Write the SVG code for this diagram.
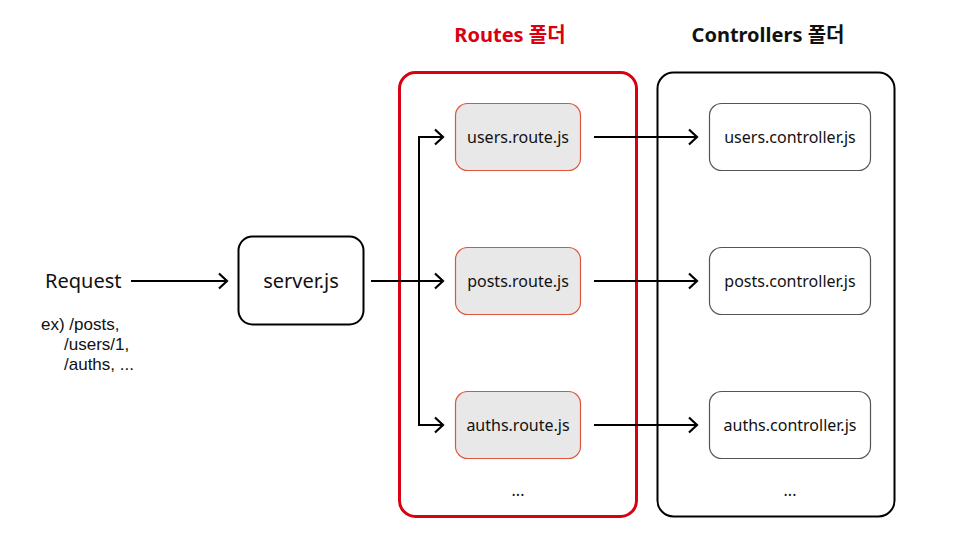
<svg xmlns="http://www.w3.org/2000/svg" width="961" height="547" viewBox="0 0 961 547">
<defs>
<marker id="arr" markerUnits="userSpaceOnUse" markerWidth="20" markerHeight="20" refX="12" refY="10" orient="auto">
<path d="M4,2.5 L12,10 L4,17.5" fill="none" stroke="#000" stroke-width="2.2"/>
</marker>
<style>
text{font-family:"Noto Sans","Noto Sans CJK KR",sans-serif;fill:#111}
.t{font-size:20px}
.n{font-size:16px}
.s{font-size:17px;font-family:"Liberation Sans","Noto Sans",sans-serif}
.h{font-size:20px;font-weight:bold}
.route{fill:#E8E8E8;stroke:#E0543F;stroke-width:1.2}
.ctrl{fill:#fff;stroke:#555;stroke-width:1.2}
.c{stroke:#000;stroke-width:2;fill:none}
</style>
</defs>
<rect width="961" height="547" fill="#fff"/>
<g id="routes-folder">
<rect x="399.5" y="72.5" width="237" height="444" rx="16" fill="none" stroke="#D9000F" stroke-width="3"/>
<text class="h" x="510" y="42" text-anchor="middle" style="fill:#D9000F">Routes 폴더</text>
<text class="n" x="518" y="496" text-anchor="middle">...</text>
</g>
<g id="controllers-folder">
<rect x="657.5" y="72.5" width="237" height="444" rx="16" fill="none" stroke="#000" stroke-width="2"/>
<text class="h" x="768" y="42" text-anchor="middle">Controllers 폴더</text>
<text class="n" x="790" y="496" text-anchor="middle">...</text>
</g>
<g id="request">
<text class="t" x="45" y="288">Request</text>
<text class="s" x="41" y="330">ex) /posts,</text>
<text class="s" x="64" y="350">/users/1,</text>
<text class="s" x="64" y="370">/auths, ...</text>
</g>
<g id="server">
<rect x="238.5" y="236.5" width="125" height="88" rx="14" fill="#fff" stroke="#000" stroke-width="2"/>
<text class="t" x="301" y="288" text-anchor="middle">server.js</text>
</g>
<g id="users-route">
<rect class="route" x="455.5" y="103.5" width="125" height="67" rx="12"/>
<text class="n" x="518" y="143" text-anchor="middle">users.route.js</text>
</g>
<g id="posts-route">
<rect class="route" x="455.5" y="247.5" width="125" height="67" rx="12"/>
<text class="n" x="518" y="287" text-anchor="middle">posts.route.js</text>
</g>
<g id="auths-route">
<rect class="route" x="455.5" y="391.5" width="125" height="67" rx="12"/>
<text class="n" x="518" y="431" text-anchor="middle">auths.route.js</text>
</g>
<g id="users-controller">
<rect class="ctrl" x="709.5" y="103.5" width="161" height="67" rx="12"/>
<text class="n" x="790" y="143" text-anchor="middle">users.controller.js</text>
</g>
<g id="posts-controller">
<rect class="ctrl" x="709.5" y="247.5" width="161" height="67" rx="12"/>
<text class="n" x="790" y="287" text-anchor="middle">posts.controller.js</text>
</g>
<g id="auths-controller">
<rect class="ctrl" x="709.5" y="391.5" width="161" height="67" rx="12"/>
<text class="n" x="790" y="431" text-anchor="middle">auths.controller.js</text>
</g>
<g id="connectors">
<line class="c" x1="131" y1="281" x2="227" y2="281" marker-end="url(#arr)"/>
<line class="c" x1="371" y1="281" x2="443" y2="281" marker-end="url(#arr)"/>
<polyline class="c" points="419,281 419,137 443,137" marker-end="url(#arr)"/>
<polyline class="c" points="419,281 419,425 443,425" marker-end="url(#arr)"/>
<line class="c" x1="594" y1="137" x2="697" y2="137" marker-end="url(#arr)"/>
<line class="c" x1="594" y1="281" x2="697" y2="281" marker-end="url(#arr)"/>
<line class="c" x1="594" y1="425" x2="697" y2="425" marker-end="url(#arr)"/>
</g>
</svg>
